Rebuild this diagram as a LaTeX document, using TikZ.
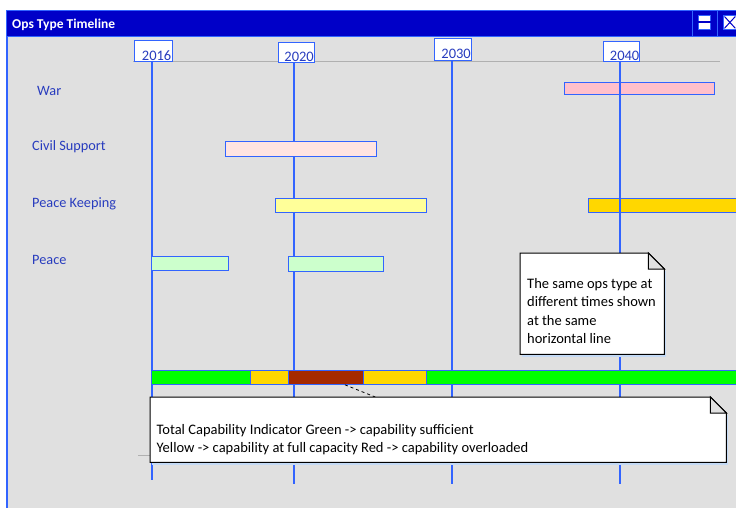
\documentclass[tikz,border=0pt]{standalone}
\usepackage{fontspec}
\setmainfont{Carlito}
\usetikzlibrary{calc}
\definecolor{titleblue}{RGB}{0,0,200}
\definecolor{edgeblue}{RGB}{50,100,255}
\definecolor{bggray}{RGB}{224,224,224}
\definecolor{labblue}{RGB}{40,60,190}
\definecolor{axisgray}{RGB}{176,176,176}
\definecolor{shadowblue}{RGB}{196,218,245}
\definecolor{warpink}{RGB}{255,192,203}
\definecolor{civpink}{RGB}{255,228,225}
\definecolor{pkyellow}{RGB}{255,255,153}
\definecolor{gold}{RGB}{255,215,0}
\definecolor{peacegreen}{RGB}{204,255,204}
\definecolor{capgreen}{RGB}{0,255,0}
\definecolor{capred}{RGB}{165,42,0}
\begin{document}
\begin{tikzpicture}[x=1pt,y=-1pt,
  bar/.style={draw=edgeblue, line width=1.2pt, inner sep=0pt, anchor=north west},
  capseg/.style={draw=edgeblue, line width=0.8pt, inner sep=0pt, anchor=north west, minimum height=14pt},
  yearbox/.style={draw=edgeblue, fill=white, line width=1pt, inner sep=0pt, anchor=north west},
  yeartext/.style={text=labblue, font=\fontsize{14.5}{16}\selectfont, inner sep=0pt, anchor=base east},
  opslabel/.style={text=labblue, font=\fontsize{14.3}{16}\selectfont, inner sep=0pt, anchor=base west},
  timeline/.style={draw=edgeblue, line width=1.3pt},
  notebox/.style={inner sep=0pt, anchor=north west, draw=none},
  notetext/.style={font=\fontsize{14.5}{17}\selectfont, inner sep=0pt, anchor=base west, text=black},
]
\useasboundingbox (0,0) rectangle (736,508);
\fill[white] (0,0) rectangle (736,508);
\fill[bggray] (7,37) rectangle (736,508);
\draw[edgeblue, line width=1.5pt] (7,37) -- (7,508);

% title bar
\draw[fill=titleblue, draw=edgeblue, line width=1pt] (6.5,10.5) rectangle (745,36.5);
\draw[edgeblue, line width=1pt] (692,10.5) -- (692,36.5);
\draw[edgeblue, line width=1pt] (717,10.5) -- (717,36.5);
\node[anchor=base west, text=white, inner sep=0pt, font=\bfseries\fontsize{13.5}{15}\selectfont] (title) at (12,28.5) {Ops Type Timeline};
\node[draw=edgeblue, fill=white, line width=0.8pt, inner sep=0pt, minimum width=12pt, minimum height=14pt, anchor=north west] (btnrestore) at (698,15) {};
\fill[titleblue] ([yshift=-0.6pt]btnrestore.west) rectangle ([yshift=1.6pt]btnrestore.east);
\node[draw=edgeblue, fill=white, line width=0.8pt, inner sep=0pt, minimum width=13pt, minimum height=14pt, anchor=north west] (btnclose) at (723,15) {};
\draw[titleblue, line width=1pt] ([shift={(1.5pt,-1.5pt)}]btnclose.north west) -- ([shift={(-1.5pt,1.5pt)}]btnclose.south east);
\draw[titleblue, line width=1pt] ([shift={(-1.5pt,-1.5pt)}]btnclose.north east) -- ([shift={(1.5pt,1.5pt)}]btnclose.south west);

% axis lines
\draw[axisgray, line width=1pt] (133,62) -- (720,62);
\draw[axisgray, line width=1pt] (138,455) -- (720,455);

% bars behind timelines
\node[bar, fill=warpink, minimum width=150pt, minimum height=12pt] (war) at (564,82) {};
\node[bar, fill=gold, minimum width=170pt, minimum height=14pt] (pk2) at (588,198) {};

% year boxes and timelines
\node[yearbox, minimum width=38pt, minimum height=21pt] (y2016) at (134,40) {};
\node[yearbox, minimum width=35.5pt, minimum height=20pt] (y2020) at (278,42) {};
\node[yearbox, minimum width=36.5pt, minimum height=22pt] (y2030) at (434,38.5) {};
\node[yearbox, minimum width=36pt, minimum height=20pt] (y2040) at (603,41) {};
\coordinate (e2016) at (152,480);
\coordinate (e2020) at (294,484);
\coordinate (e2030) at (452,484);
\coordinate (e2040) at (620,484);
\draw[timeline] (y2016.south -| e2016) -- (e2016);
\draw[timeline] (y2020.south -| e2020) -- (e2020);
\draw[timeline] (y2030.south -| e2030) -- (e2030);
\draw[timeline] (y2040.south -| e2040) -- (e2040);
\node[yeartext] (t2016) at ([shift={(-1.5pt,1.5pt)}]y2016.south east) {2016};
\node[yeartext] (t2020) at ([shift={(-0.5pt,1.5pt)}]y2020.south east) {2020};
\node[yeartext] (t2030) at ([shift={(-0.5pt,3pt)}]y2030.south east) {2030};
\node[yeartext] (t2040) at ([shift={(-0.5pt,1pt)}]y2040.south east) {2040};

% labels
\node[opslabel] (lwar) at (37,95.5) {War};
\node[opslabel] (lciv) at (32,150) {Civil Support};
\node[opslabel] (lpk) at (32,207) {Peace Keeping};
\node[opslabel] (lpeace) at (32,264) {Peace};

% bars
\node[bar, fill=civpink, minimum width=151pt, minimum height=15pt] (civ) at (225,141) {};
\node[bar, fill=pkyellow, minimum width=151pt, minimum height=14pt] (pk1) at (275,198) {};
\node[bar, fill=peacegreen, minimum width=77pt, minimum height=14pt] (peace1) at (151,256) {};
\node[bar, fill=peacegreen, minimum width=95pt, minimum height=15pt] (peace2) at (288,256) {};

% capability bar
\node[capseg, fill=capgreen, minimum width=99pt] (capg1) at (151,370) {};
\node[capseg, fill=gold, minimum width=38pt] (capy1) at (250,370) {};
\node[capseg, fill=capred, minimum width=75pt] (capr) at (288,370) {};
\node[capseg, fill=gold, minimum width=63pt] (capy2) at (363,370) {};
\node[capseg, fill=capgreen, minimum width=320pt] (capg2) at (426,370) {};

% note 1
\node[notebox, minimum width=144pt, minimum height=101pt] (note1) at (520,253) {};
\fill[shadowblue] ($(note1.north west)+(2,18)$) rectangle ($(note1.south east)+(2,3)$);
\draw[fill=white, line width=1pt] (note1.north west) -- ($(note1.north east)+(-16,0)$) -- ($(note1.north east)+(0,16)$) -- (note1.south east) -- (note1.south west) -- cycle;
\draw[fill=bggray, line width=1pt] ($(note1.north east)+(-16,0)$) -- ($(note1.north east)+(-16,16)$) -- ($(note1.north east)+(0,16)$) -- cycle;
\node[notetext] (n1a) at (527,288) {The same ops type at};
\node[notetext] (n1b) at (527,306.5) {different times shown};
\node[notetext] (n1c) at (527,325) {at the same};
\node[notetext] (n1d) at (527,343.5) {horizontal line};

% note 2
\node[notebox, minimum width=576pt, minimum height=65pt] (note2) at (150,397) {};
\draw[dashed, line width=0.8pt] ([xshift=19pt]capr.south) -- ([xshift=-63pt]note2.north);
\fill[shadowblue] ($(note2.north west)+(2,18)$) rectangle ($(note2.south east)+(2,2.5)$);
\draw[fill=white, line width=1pt] (note2.north west) -- ($(note2.north east)+(-16,0)$) -- ($(note2.north east)+(0,16)$) -- (note2.south east) -- (note2.south west) -- cycle;
\draw[fill=bggray, line width=1pt] ($(note2.north east)+(-16,0)$) -- ($(note2.north east)+(-16,16)$) -- ($(note2.north east)+(0,16)$) -- cycle;
\node[notetext] (n2a) at (156.5,434) {Total Capability Indicator Green -> capability sufficient};
\node[notetext] (n2b) at (156.5,452) {Yellow -> capability at full capacity Red -> capability overloaded};
\end{tikzpicture}
\end{document}
